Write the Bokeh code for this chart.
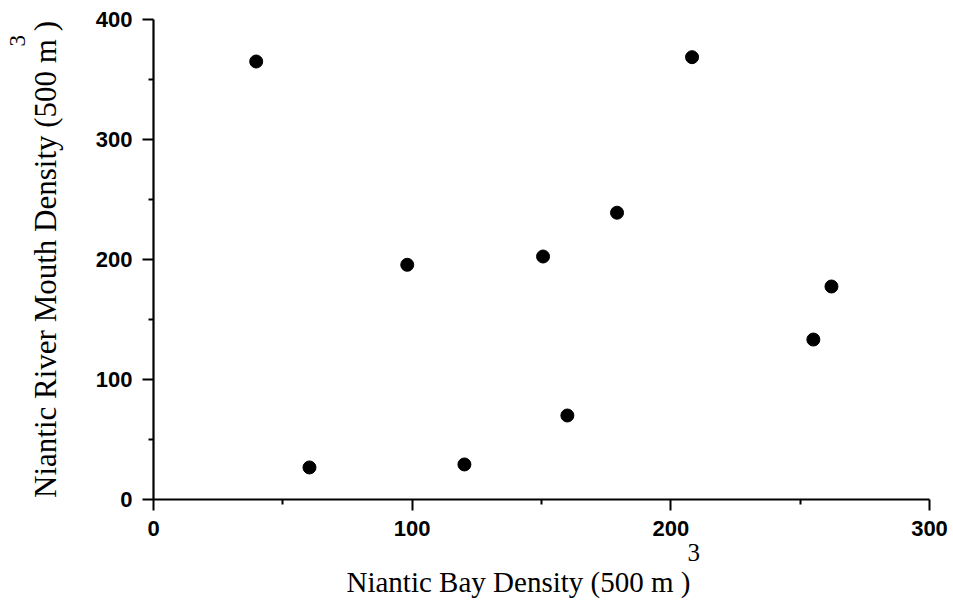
from bokeh.plotting import figure
from bokeh.models import FixedTicker, Title
from bokeh.embed import file_html
from bokeh.resources import INLINE

bay_density = [39.7, 60.3, 98.1, 120.2, 150.6, 160.0, 179.2, 208.2, 255.1, 262.1]
river_density = [365, 26.7, 195.6, 29.2, 202.5, 70, 239, 368.6, 133.3, 177.5]
x_ticks = [0, 100, 200, 300]
x_minor = [50, 150, 250]
y_ticks = [0, 100, 200, 300, 400]
y_minor = [50, 150, 250, 350]
x_label = "Niantic Bay Density (500 m )"
y_label = "Niantic River Mouth Density (500 m )"
unit_power = "3"

p = figure(width=953, height=604, output_backend="svg", toolbar_location=None,
           x_range=(0, 300), y_range=(0, 400),
           min_border_left=153, min_border_right=24, min_border_top=19, min_border_bottom=105)
p.outline_line_color = None
p.grid.visible = False
p.background_fill_color = "white"
p.border_fill_color = "white"

p.scatter(bay_density, river_density, size=13, color="black")

for ax, ticks, minor in ((p.xaxis[0], x_ticks, x_minor), (p.yaxis[0], y_ticks, y_minor)):
    ax.ticker = FixedTicker(ticks=ticks, minor_ticks=minor)
    ax.axis_line_width = 2.2
    ax.axis_line_color = "black"
    ax.major_tick_line_width = 2
    ax.major_tick_line_color = "black"
    ax.major_tick_out = 11
    ax.major_tick_in = 0
    ax.minor_tick_line_width = 2
    ax.minor_tick_line_color = "black"
    ax.minor_tick_out = 5
    ax.minor_tick_in = 0
    ax.major_label_text_font = "Liberation Sans"
    ax.major_label_text_font_style = "bold"
    ax.major_label_text_font_size = "22px"
    ax.major_label_text_color = "black"

p.xaxis.major_label_standoff = 10
p.yaxis.major_label_standoff = 10
p.xaxis.axis_label = None

serif = "Liberation Serif"

# y label as the axis' own label, aligned to the start of the axis
p.yaxis.axis_label = y_label
p.yaxis.axis_label_text_font = serif
p.yaxis.axis_label_text_font_size = "31px"
p.yaxis.axis_label_text_font_style = "normal"
p.yaxis.axis_label_text_color = "black"
p.yaxis.axis_label_text_align = "left"
p.yaxis.axis_label_standoff = 30

def title(text, size, offset, standoff=0):
    return Title(text=text, text_font=serif, text_font_size=size, text_font_style="normal",
                 text_color="black", align="left", offset=offset, standoff=standoff)

# below: superscript row first (closer to axis), then main label
p.add_layout(title(unit_power, "25px", 534, 6), "below")
p.add_layout(title(x_label, "29px", 193, 0), "below")
# left: superscript outside the axis label
p.add_layout(title(unit_power, "23px", 453, 0), "left")

open("out.html", "w").write(file_html(p, INLINE))
